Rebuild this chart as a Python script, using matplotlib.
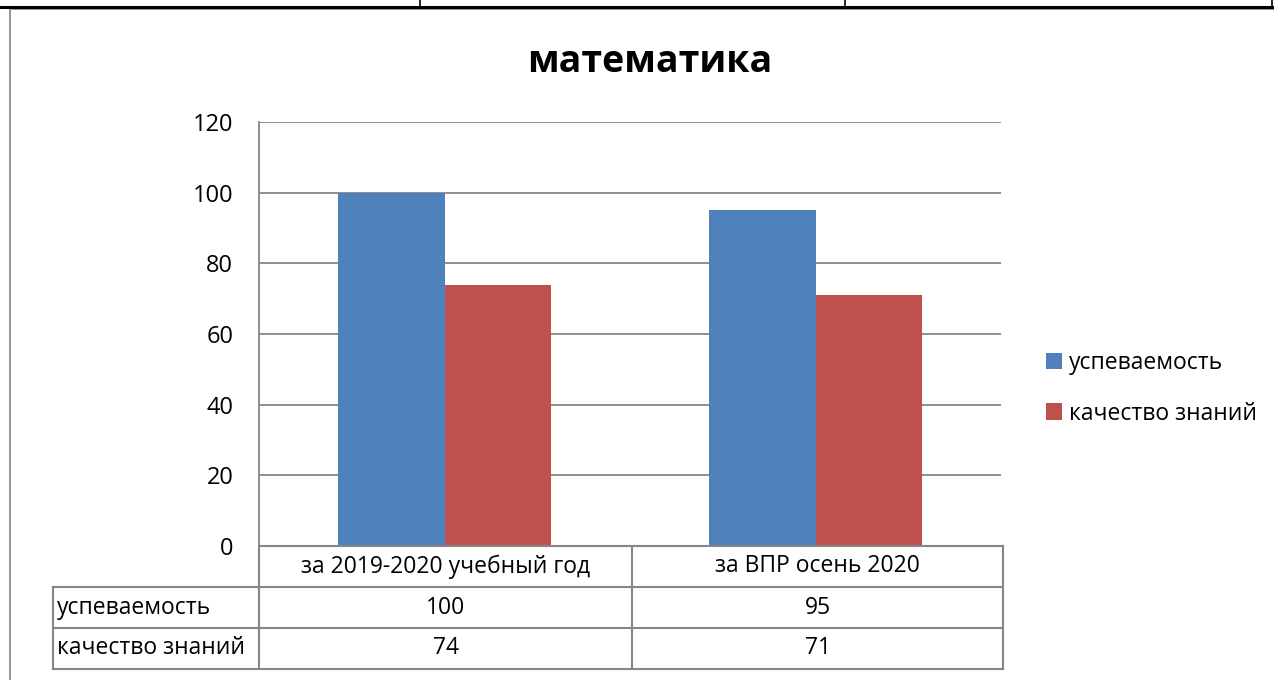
import matplotlib
matplotlib.use("Agg")
import matplotlib.pyplot as plt
from matplotlib.lines import Line2D
from matplotlib.patches import Rectangle
import numpy as np

plt.rcParams['font.family'] = ['Open Sans', 'DejaVu Sans']

title = "математика"
categories = ["за 2019-2020 учебный год", "за ВПР осень 2020"]
series_names = ["успеваемость", "качество знаний"]
uspev = [100, 95]
kachestvo = [74, 71]
yticks = [0, 20, 40, 60, 80, 100, 120]
colors = ["#4F81BD", "#C0504D"]
GRID = "#868686"

W, H = 1274, 680
fig = plt.figure(figsize=(W / 100, H / 100), dpi=100)


def fx(x):
    return x / W


def fy(y):
    return 1 - y / H


# plot area
L, R, T, B = 259, 1001, 122, 546
ax = fig.add_axes([fx(L), fy(B), fx(R - L), (B - T) / H])
x = np.arange(len(categories))
bw = 0.287
b1 = ax.bar(x - bw / 2, uspev, bw, color=colors[0], label=series_names[0], zorder=3)
b2 = ax.bar(x + bw / 2, kachestvo, bw, color=colors[1], label=series_names[1], zorder=3)
ax.set_xlim(-0.5, len(categories) - 0.5)
ax.set_ylim(0, 120)
ax.set_yticks(yticks)
ax.set_yticklabels([str(v) for v in yticks], fontsize=17)
ax.tick_params(axis='y', length=0, pad=18.5)
ax.set_xticks([])
ax.yaxis.grid(True, color=GRID, linewidth=1.3, zorder=0)
for s in ['top', 'right', 'bottom']:
    ax.spines[s].set_visible(False)
ax.spines['left'].set_color(GRID)
ax.spines['left'].set_linewidth(1.3)

# title
fig.text(fx(650), fy(62), title, ha='center', va='center', fontsize=27, fontweight='bold')

# legend
fig.legend(handles=[b1, b2], loc='upper left', bbox_to_anchor=(fx(1037), fy(342)),
           frameon=False, fontsize=16.5, handlelength=0.7, handleheight=0.7,
           handletextpad=0.3, labelspacing=1.15, borderaxespad=0)

# data table drawn under the plot
col_edges = [L, 632, R + 2]
row_edges = [B, 587, 628, 669]
label_left = 53


def hline(y, x0, x1, color=GRID, lw=1.5):
    fig.add_artist(Line2D([fx(x0), fx(x1)], [fy(y), fy(y)], color=color, lw=lw,
                          transform=fig.transFigure))


def vline(xx, y0, y1, color=GRID, lw=1.5):
    fig.add_artist(Line2D([fx(xx), fx(xx)], [fy(y0), fy(y1)], color=color, lw=lw,
                          transform=fig.transFigure))


hline(row_edges[0], col_edges[0], col_edges[-1])
for y in row_edges[1:]:
    hline(y, label_left, col_edges[-1])
for xx in col_edges:
    vline(xx, row_edges[0], row_edges[-1])
vline(label_left, row_edges[1], row_edges[-1])

rows = [series_names[0], series_names[1]]
vals = [uspev, kachestvo]
for j, cat in enumerate(categories):
    cx = (col_edges[j] + col_edges[j + 1]) / 2
    cy = (row_edges[0] + row_edges[1]) / 2
    fig.text(fx(cx), fy(cy), cat, ha='center', va='center', fontsize=16.5)
for i, name in enumerate(rows):
    cy = (row_edges[i + 1] + row_edges[i + 2]) / 2
    fig.text(fx(label_left + 4), fy(cy), name, ha='left', va='center', fontsize=16.5)
    for j in range(len(categories)):
        cx = (col_edges[j] + col_edges[j + 1]) / 2
        fig.text(fx(cx), fy(cy), str(vals[i][j]), ha='center', va='center', fontsize=16.5)

# outer chart frame (partially visible) and page table line above
fig.add_artist(Rectangle((fx(10), fy(H + 20)), fx(W + 40), (H + 20 - 9) / H,
                         transform=fig.transFigure, fill=False, edgecolor="#8c8c8c", lw=1.3))
hline(7, 0, W, color='black', lw=2.2)
for xx in [420, 845, 1272]:
    vline(xx, 0, 7, color='black', lw=1.2)

fig.savefig("out.png", dpi=100)
